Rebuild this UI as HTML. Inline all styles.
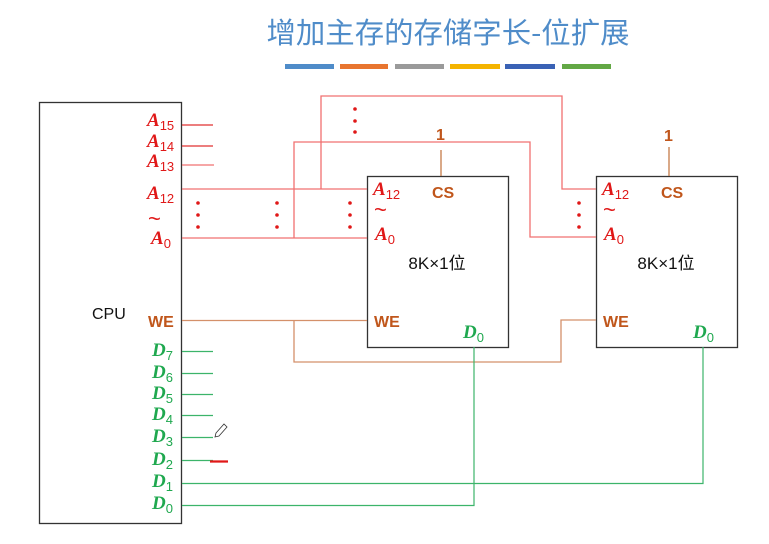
<!DOCTYPE html>
<html><head><meta charset="utf-8"><style>
html,body{margin:0;padding:0;background:#fff;width:769px;height:544px;overflow:hidden}
svg{display:block}
.a{font-family:"Liberation Serif",serif;font-style:italic;font-weight:bold;font-size:19px}
.s{font-family:"Liberation Sans",sans-serif;font-size:13px;font-style:normal;font-weight:normal}
.r{fill:#e01818}.g{fill:#1fa84f}.o{fill:#c0561b}
.t{font-family:"Liberation Sans",sans-serif;font-size:16px;font-weight:bold}
.tl{font-family:"Liberation Sans",sans-serif;font-size:22px}
</style></head><body>
<svg width="769" height="544" viewBox="0 0 769 544" xmlns="http://www.w3.org/2000/svg">
<text x="448" y="43" text-anchor="middle" font-family="'Noto Sans CJK SC','Liberation Sans',sans-serif" font-size="29" fill="#4f8cc9" textLength="363" lengthAdjust="spacingAndGlyphs">增加主存的存储字长-位扩展</text>
<g>
<rect x="285" y="64" width="49" height="5" fill="#4f8cc9"/>
<rect x="340" y="64" width="48" height="5" fill="#e8752f"/>
<rect x="395" y="64" width="49" height="5" fill="#9a9a9a"/>
<rect x="450" y="64" width="50" height="5" fill="#f4b400"/>
<rect x="505" y="64" width="50" height="5" fill="#3a62b5"/>
<rect x="562" y="64" width="49" height="5" fill="#63a845"/>
</g>
<rect x="39.5" y="102.5" width="142" height="421" fill="none" stroke="#333" stroke-width="1.3"/>
<rect x="367.5" y="176.5" width="141" height="171" fill="none" stroke="#333" stroke-width="1.3"/>
<rect x="596.5" y="176.5" width="141" height="171" fill="none" stroke="#333" stroke-width="1.3"/>
<g stroke="#e03030" stroke-width="1.2" fill="none">
<path d="M182 125H213M182 146H213"/>
</g>
<g stroke="#f07070" stroke-width="1.3" fill="none">
<path d="M182 165H214"/>
<path d="M182 189H367M182 238H367"/>
<path d="M294 238V142H530V237H596"/>
<path d="M321 189V96H562V189H596"/>
</g>
<g fill="#e01818">
<circle cx="198" cy="203" r="1.8"/><circle cx="198" cy="215" r="1.8"/><circle cx="198" cy="227" r="1.8"/>
<circle cx="277" cy="203" r="1.8"/><circle cx="277" cy="215" r="1.8"/><circle cx="277" cy="227" r="1.8"/>
<circle cx="350" cy="203" r="1.8"/><circle cx="350" cy="215" r="1.8"/><circle cx="350" cy="227" r="1.8"/>
<circle cx="355" cy="109" r="1.8"/><circle cx="355" cy="121" r="1.8"/><circle cx="355" cy="132" r="1.8"/>
<circle cx="579" cy="203" r="1.8"/><circle cx="579" cy="215" r="1.8"/><circle cx="579" cy="227" r="1.8"/>
</g>
<text class="a r" x="147" y="126">A<tspan class="s" dy="4">15</tspan></text>
<text class="a r" x="147" y="147">A<tspan class="s" dy="4">14</tspan></text>
<text class="a r" x="147" y="167">A<tspan class="s" dy="4">13</tspan></text>
<text class="a r" x="147" y="199">A<tspan class="s" dy="4">12</tspan></text>
<text class="tl r" x="148" y="226">~</text>
<text class="a r" x="151" y="244">A<tspan class="s" dy="4">0</tspan></text>
<text class="a r" x="373" y="195">A<tspan class="s" dy="4">12</tspan></text>
<text class="tl r" x="374" y="217">~</text>
<text class="a r" x="375" y="240">A<tspan class="s" dy="4">0</tspan></text>
<text class="a r" x="602" y="195">A<tspan class="s" dy="4">12</tspan></text>
<text class="tl r" x="603" y="217">~</text>
<text class="a r" x="604" y="240">A<tspan class="s" dy="4">0</tspan></text>
<text class="t o" x="432" y="198">CS</text>
<text class="t o" x="661" y="198">CS</text>
<text class="t o" x="436" y="140">1</text>
<text class="t o" x="664" y="141">1</text>
<path d="M441 150V176M669 147V176" stroke="#c0703a" stroke-width="1.2"/>
<text x="437" y="269" text-anchor="middle" font-family="'Liberation Sans','Noto Sans CJK SC',sans-serif" font-size="17" fill="#111">8K×1位</text>
<text x="666" y="269" text-anchor="middle" font-family="'Liberation Sans','Noto Sans CJK SC',sans-serif" font-size="17" fill="#111">8K×1位</text>
<text x="92" y="319" font-family="'Liberation Sans',sans-serif" font-size="16" fill="#111">CPU</text>
<text class="t o" x="148" y="327">WE</text>
<text class="t o" x="374" y="327">WE</text>
<text class="t o" x="603" y="327">WE</text>
<path d="M182 320.5H367M294 320V362H561V320H596" stroke="#d4906a" stroke-width="1.3" fill="none"/>
<text class="a g" x="463" y="338">D<tspan class="s" dy="4">0</tspan></text>
<text class="a g" x="693" y="338">D<tspan class="s" dy="4">0</tspan></text>
<text class="a g" x="152" y="356">D<tspan class="s" dy="4">7</tspan></text>
<text class="a g" x="152" y="378">D<tspan class="s" dy="4">6</tspan></text>
<text class="a g" x="152" y="399">D<tspan class="s" dy="4">5</tspan></text>
<text class="a g" x="152" y="420">D<tspan class="s" dy="4">4</tspan></text>
<text class="a g" x="152" y="442">D<tspan class="s" dy="4">3</tspan></text>
<text class="a g" x="152" y="465">D<tspan class="s" dy="4">2</tspan></text>
<text class="a g" x="152" y="487">D<tspan class="s" dy="4">1</tspan></text>
<text class="a g" x="152" y="509">D<tspan class="s" dy="4">0</tspan></text>
<g stroke="#3cb46a" stroke-width="1.2" fill="none">
<path d="M182 351.5H213M182 373.5H213M182 394.5H213M182 415.5H213M182 437.5H213M182 460.5H213"/>
<path d="M182 483.5H703V347M182 505.5H474V347"/>
</g>
<path d="M210 461.5H228" stroke="#e01818" stroke-width="2.2"/>
<path d="M216 433l8-9 3 3-8 9-4 1z" fill="#fff" stroke="#333" stroke-width="0.8"/>
</svg>
</body></html>
